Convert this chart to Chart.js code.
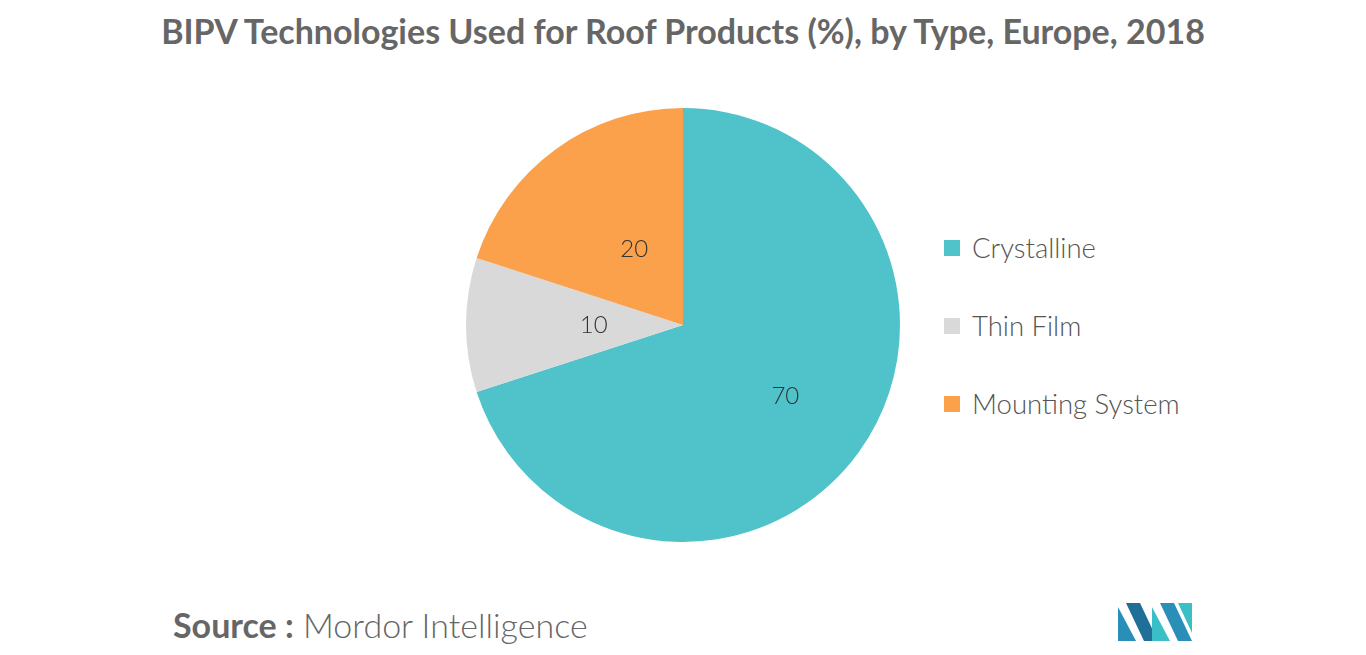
<!DOCTYPE html>
<html><head><meta charset="utf-8">
<script src="https://cdn.jsdelivr.net/npm/chart.js@4/dist/chart.umd.min.js"></script>
<style>
body{margin:0;width:1366px;height:655px;background:#fff;font-family:Lato,"Open Sans",sans-serif;position:relative;overflow:hidden}
#title{position:absolute;top:10px;left:0;width:1366px;text-align:center;font-size:34px;font-weight:bold;color:#666}
#wrap{position:absolute;left:462px;top:104px;width:442px;height:442px}
.leg{position:absolute;left:944px;font-size:27.5px;font-weight:300;color:#555;display:flex;align-items:center}
.leg span{display:inline-block;width:16px;height:16px;margin-right:12px}
#src{position:absolute;left:173px;top:604px;font-size:34px;color:#666;font-weight:300}
#logo{position:absolute;left:1118px;top:603px}
</style></head><body>
<div id="title">BIPV Technologies Used for Roof Products (%), by Type, Europe, 2018</div>
<div id="wrap"><canvas id="c"></canvas></div>
<div id="legend"></div>
<div id="src"><b style="font-weight:bold">Source :</b> Mordor Intelligence</div>
<svg id="logo" width="74" height="38" viewBox="0 0 74 38">
<polygon points="0,38 0,4 18,38" fill="#2a8fb8"/><polygon points="8,0 22,0 40,38 26,38" fill="#1f6f99"/>
<polygon points="34,38 34,4 52,38" fill="#3bbfc6"/><polygon points="42,0 56,0 74,38 60,38" fill="#2a8fb8"/><polygon points="60,0 74,0 74,30" fill="#3bbfc6"/>
</svg>
<script>
const categories=["Crystalline","Thin Film","Mounting System"];
const values=[70,10,20];
const colors=["#4FC3C9","#D9D9D9","#FBA04B"];
const leg=document.getElementById('legend');
categories.forEach((c,i)=>{const d=document.createElement('div');d.className='leg';d.style.top=(231+i*78)+'px';d.innerHTML='<span style="background:'+colors[i]+'"></span>'+c;leg.appendChild(d);});
const labelPlugin={id:'lbl',afterDatasetsDraw(ch){const ctx=ch.ctx;const meta=ch.getDatasetMeta(0);ctx.save();ctx.font='300 24px Lato';ctx.fillStyle='#333';ctx.textAlign='center';ctx.textBaseline='middle';
meta.data.forEach((a,i)=>{const m=(a.startAngle+a.endAngle)/2;const r=a.outerRadius*(i==0?0.56:0.43);ctx.fillText(values[i],a.x+Math.cos(m)*r+(i==2?6:4),a.y+Math.sin(m)*r);});ctx.restore();}};
new Chart(document.getElementById('c'),{type:'pie',data:{labels:categories,datasets:[{data:values,backgroundColor:colors,borderWidth:0}]},
options:{responsive:true,maintainAspectRatio:false,animation:false,layout:{padding:4},plugins:{legend:{display:false},tooltip:{enabled:false}}},plugins:[labelPlugin]});
</script></body></html>
